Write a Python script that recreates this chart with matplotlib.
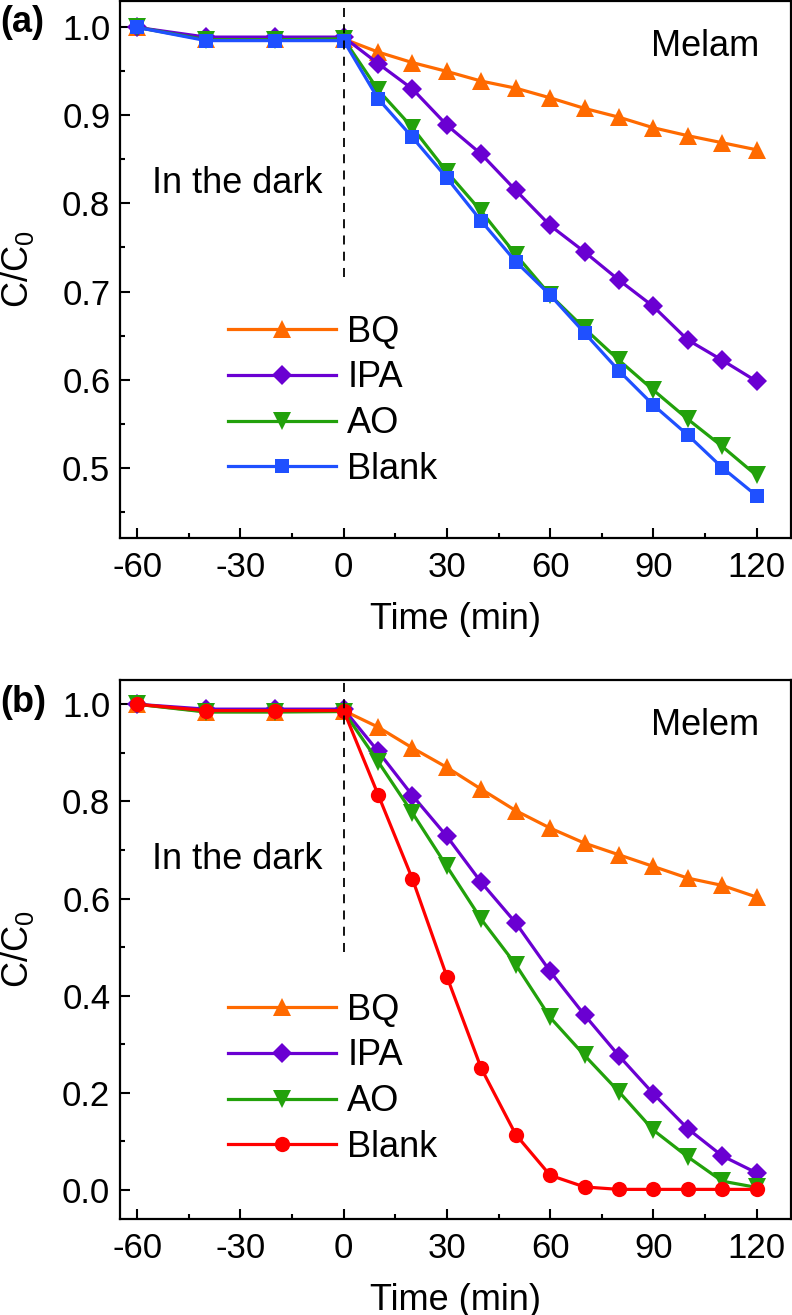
#!/usr/bin/env python3
"""Photocatalytic degradation with scavengers: Melam (a) and Melem (b)."""
import matplotlib
matplotlib.use('Agg')
import matplotlib.pyplot as plt
from matplotlib.ticker import MultipleLocator

plt.rcParams['font.family'] = ['Liberation Sans', 'DejaVu Sans']
plt.rcParams['mathtext.fontset'] = 'custom'
plt.rcParams['mathtext.rm'] = 'Liberation Sans'
plt.rcParams['axes.unicode_minus'] = False

time = [-60, -40, -20, 0, 10, 20, 30, 40, 50, 60, 70, 80, 90, 100, 110, 120]
labels = ['BQ', 'IPA', 'AO', 'Blank']

# Panel (a): Melam
melam_bq = [1.0, 0.987, 0.987, 0.987, 0.972, 0.960, 0.950, 0.939, 0.931, 0.920,
            0.908, 0.898, 0.886, 0.877, 0.869, 0.861]
melam_ipa = [1.0, 0.989, 0.989, 0.989, 0.959, 0.930, 0.889, 0.856, 0.815, 0.775,
             0.745, 0.713, 0.683, 0.645, 0.622, 0.598]
melam_ao = [1.0, 0.986, 0.986, 0.987, 0.929, 0.886, 0.836, 0.791, 0.742, 0.696,
            0.658, 0.622, 0.588, 0.555, 0.524, 0.491]
melam_blank = [1.0, 0.985, 0.985, 0.985, 0.919, 0.875, 0.829, 0.780, 0.734, 0.696,
               0.653, 0.610, 0.571, 0.537, 0.500, 0.468]

# Panel (b): Melem
melem_bq = [1.0, 0.985, 0.985, 0.987, 0.953, 0.910, 0.870, 0.825, 0.781, 0.745,
            0.714, 0.690, 0.666, 0.642, 0.627, 0.603]
melem_ipa = [1.0, 0.990, 0.990, 0.990, 0.903, 0.812, 0.728, 0.633, 0.550, 0.450,
             0.360, 0.276, 0.198, 0.126, 0.070, 0.035]
melem_ao = [1.0, 0.984, 0.984, 0.985, 0.882, 0.776, 0.666, 0.557, 0.464, 0.355,
            0.277, 0.202, 0.123, 0.068, 0.018, 0.005]
melem_blank = [1.0, 0.987, 0.987, 0.987, 0.814, 0.640, 0.439, 0.250, 0.114, 0.030,
               0.006, 0.001, 0.001, 0.001, 0.001, 0.001]

colors = ['#FF6A00', '#6A00D2', '#22A10B', '#1F50FF']
colors_b = ['#FF6A00', '#6A00D2', '#22A10B', '#FF0000']
markers = ['^', 'D', 'v', 's']
markers_b = ['^', 'D', 'v', 'o']
msizes = [13, 10, 13, 10]

FS_TEXT = 26
FS_TICK = 25


def style_axes(ax, ymajor, yminor):
    ax.xaxis.set_major_locator(MultipleLocator(30))
    ax.xaxis.set_minor_locator(MultipleLocator(15))
    ax.yaxis.set_major_locator(MultipleLocator(ymajor))
    ax.yaxis.set_minor_locator(MultipleLocator(yminor))
    ax.tick_params(which='both', direction='in', width=1.5, labelsize=FS_TICK,
                   top=False, right=False)
    ax.tick_params(which='major', length=7)
    ax.tick_params(which='minor', length=3.5)
    ax.tick_params(axis='x', which='both', pad=9)
    ax.tick_params(axis='y', which='both', pad=7)
    for sp in ax.spines.values():
        sp.set_linewidth(1.6)
    ax.set_xlim(-65, 130)
    ax.set_xlabel('Time (min)', fontsize=FS_TEXT, labelpad=13)
    ax.set_ylabel(r'C/C$_\mathregular{0}$', fontsize=FS_TEXT)
    ax.yaxis.set_label_coords(-0.125, 0.5)


def draw_panel(ax, series, cols, marks, name, name_y, dark_y, dash_bottom, ylim, leg_y):
    for vals, c, m, ms, lab in zip(series, cols, marks, msizes, labels):
        if m == 'o':
            ms = 11
        ax.plot(time, vals, color=c, marker=m, markersize=ms, linewidth=2.3,
                markeredgewidth=0, label=lab)
    ax.vlines(0, dash_bottom, ylim[1], colors='black', linewidth=1.3,
              linestyles=(0, (5, 4)), zorder=5)
    ax.set_ylim(*ylim)
    ax.text(-31, dark_y, 'In the dark', fontsize=FS_TEXT, ha='center', va='center')
    ax.text(105, name_y, name, fontsize=FS_TEXT, ha='center', va='center')
    ax.legend(loc='upper left', bbox_to_anchor=(0.161, leg_y), frameon=False,
              fontsize=FS_TEXT, handlelength=3.0, handletextpad=0.3,
              labelspacing=0.3, borderpad=0, borderaxespad=0)


fig = plt.figure(figsize=(7.92, 13.15), dpi=100)
ax_a = fig.add_axes([120 / 792, 1 - 538 / 1315, 671 / 792, 537 / 1315])
ax_b = fig.add_axes([120 / 792, 1 - 1219 / 1315, 671 / 792, 539 / 1315])

draw_panel(ax_a, [melam_bq, melam_ipa, melam_ao, melam_blank], colors, markers,
           'Melam', 0.978, 0.823, 0.717, (0.42, 1.03), 0.416)
style_axes(ax_a, 0.1, 0.05)

draw_panel(ax_b, [melem_bq, melem_ipa, melem_ao, melem_blank], colors_b, markers_b,
           'Melem', 0.957, 0.68, 0.489, (-0.06, 1.05), 0.42)
style_axes(ax_b, 0.2, 0.1)

fig.text(0.0, 1 - 22 / 1315, '(a)', fontsize=FS_TEXT, fontweight='bold',
         ha='left', va='center')
fig.text(0.0, 1 - 703 / 1315, '(b)', fontsize=FS_TEXT, fontweight='bold',
         ha='left', va='center')

fig.savefig('out.png', dpi=100)
plt.close(fig)
